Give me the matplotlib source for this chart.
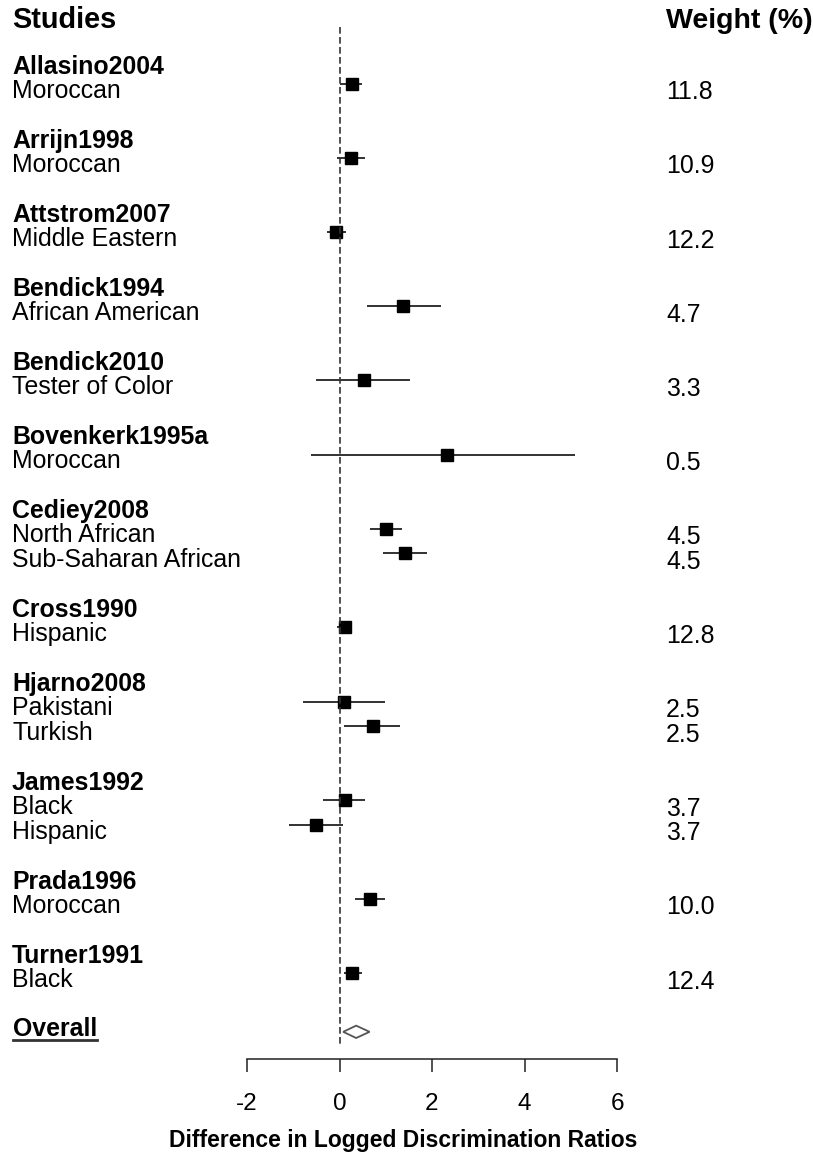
import numpy as np
import matplotlib
matplotlib.use("Agg")
import matplotlib.pyplot as plt
import matplotlib.transforms as mtransforms
from matplotlib.patches import Polygon
from matplotlib.lines import Line2D

plt.rcParams['font.family'] = ['Liberation Sans', 'DejaVu Sans']

# datos
studies = ['Allasino2004', 'Arrijn1998', 'Attstrom2007', 'Bendick1994', 'Bendick2010',
           'Bovenkerk1995a', 'Cediey2008', 'Cross1990', 'Hjarno2008', 'James1992',
           'Prada1996', 'Turner1991']
groups = [['Moroccan'], ['Moroccan'], ['Middle Eastern'], ['African American'],
          ['Tester of Color'], ['Moroccan'], ['North African', 'Sub-Saharan African'],
          ['Hispanic'], ['Pakistani', 'Turkish'], ['Black', 'Hispanic'], ['Moroccan'], ['Black']]
est = [0.27, 0.25, -0.065, 1.38, 0.54, 2.32, 1.01, 1.41, 0.115, 0.10, 0.72, 0.115, -0.50, 0.65, 0.27]
lo = [0.02, -0.05, -0.28, 0.60, -0.51, -0.61, 0.65, 0.94, -0.05, -0.79, 0.10, -0.36, -1.10, 0.33, 0.09]
hi = [0.49, 0.56, 0.15, 2.20, 1.52, 5.09, 1.36, 1.89, 0.27, 0.98, 1.31, 0.55, 0.08, 0.98, 0.49]
weights = [11.8, 10.9, 12.2, 4.7, 3.3, 0.5, 4.5, 4.5, 12.8, 2.5, 2.5, 3.7, 3.7, 10.0, 12.4]
overall = (0.36, 0.08, 0.65)  # estimacion, inferior, superior
xticks = [-2, 0, 2, 4, 6]

W, H = 813, 1158
fig = plt.figure(figsize=(W / 100, H / 100), dpi=100)
ax = fig.add_axes([247 / W, (H - 1059) / H, 370 / W, 1059 / H])
ax.set_xlim(-2, 6)
ax.set_ylim(40.47, -2.40)
for s in ['top', 'left', 'right']:
    ax.spines[s].set_visible(False)
ax.spines['bottom'].set_linewidth(1.1)
ax.spines['bottom'].set_color('#222222')
ax.set_yticks([])
ax.set_xticks(xticks)
ax.set_xticklabels([str(t) for t in xticks])
ax.tick_params(axis='x', length=9.5, width=1.1, color='#222222', labelsize=17.5, pad=15)

# etiqueta del eje x (corrida a la izquierda como en el original)
fig.text(403 / W, 1 - 1140 / H, 'Difference in Logged Discrimination Ratios', fontsize=16.5,
         fontweight='bold', ha='center', va='center')

trans = mtransforms.blended_transform_factory(fig.transFigure, ax.transData)
x_lab = 12 / W
x_w = 666 / W
fs = 17.9

fig.text(x_lab, 1 - 28 / H, 'Studies', fontsize=20.8, fontweight='bold', va='baseline')
fig.text(x_w, 1 - 28 / H, 'Weight (%)', fontsize=20.5, fontweight='bold', va='baseline')

# filas
r = 0
k = 0
sub_rows = []
for name, subs in zip(studies, groups):
    ax.text(x_lab, r + 0.58, name, transform=trans, fontsize=fs, fontweight='bold', va='baseline')
    for j, g in enumerate(subs):
        row = r + 1 + j
        sub_rows.append(row)
        ax.text(x_lab, row + 0.56, g, transform=trans, fontsize=fs, va='baseline')
        ax.text(x_w, row + 0.62, f'{weights[k]:.1f}', transform=trans, fontsize=fs, va='baseline')
        k += 1
    r += len(subs) + 2

sub_rows = np.array(sub_rows)
ax.hlines(sub_rows, lo, hi, color='#222222', lw=1.3, clip_on=False)
ax.plot(est, sub_rows, 's', color='black', ms=8.2, clip_on=False)

# linea de referencia
ax.vlines(0, -1.3, 39.9, color='#333333', lw=1.2, linestyles=(0, (4, 2)))

# diamante global
orow = r + 0.37
h = 0.25
diamond = Polygon([[overall[1], orow], [overall[0], orow - h], [overall[2], orow],
                   [overall[0], orow + h]], closed=True, facecolor='white',
                  edgecolor='#555555', lw=1.3)
ax.add_patch(diamond)
t = ax.text(x_lab + 1 / W, orow + 0.17, 'Overall', transform=trans, fontsize=fs,
            fontweight='bold', va='baseline')

fig.canvas.draw()
bb = t.get_window_extent().transformed(fig.transFigure.inverted())
yb = ax.transData.transform((0, orow + 0.17))[1]
yb = fig.transFigure.inverted().transform((0, yb - 3.5))[1]
fig.add_artist(Line2D([bb.x0, bb.x1], [yb, yb], color='#333333', lw=2.0))

fig.savefig('out.png', dpi=100)
